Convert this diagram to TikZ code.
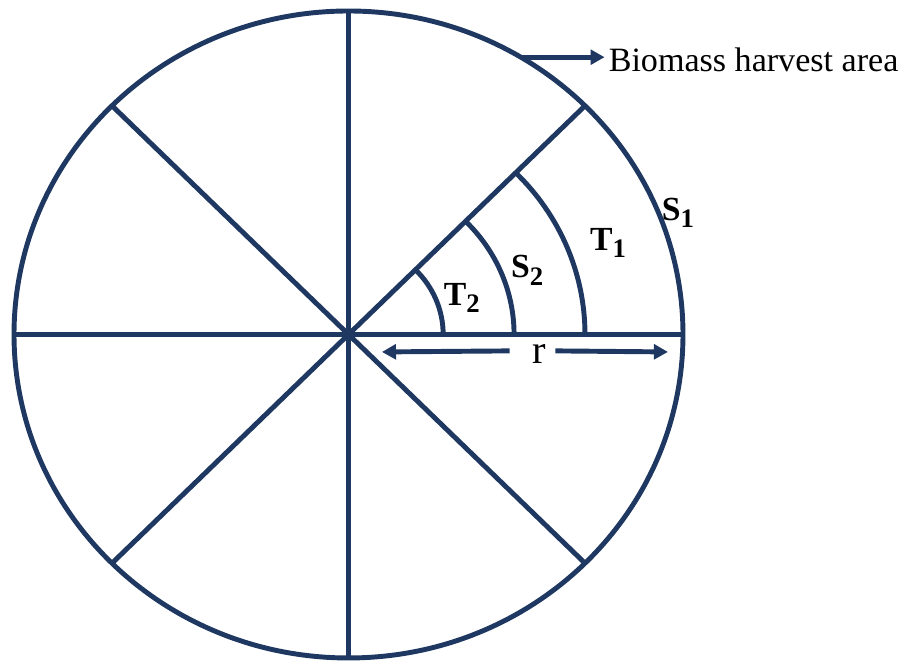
\documentclass[tikz,border=0pt]{standalone}
\usepackage{fontspec}
\setmainfont{Liberation Serif}
\usetikzlibrary{arrows.meta,positioning}
\definecolor{HarvestBlue}{RGB}{30,56,98}

\newcommand{\lowsub}[1]{\raisebox{-2.2pt}{\fontsize{7.6}{9}\selectfont#1}}

\tikzset{
  rim/.style={line width=1.4pt,HarvestBlue},
  seclabel/.style={font=\fontsize{9.6}{11}\selectfont\bfseries,inner sep=0pt},
}

\begin{document}
\begin{tikzpicture}[x=3.345cm,y=3.235cm,>={Triangle[length=4pt,width=4.2pt]}]
  \useasboundingbox (-1.0419,-1.0155) rectangle (1.6607,1.034);
  \coordinate (O) at (0,0);
  % outer boundary and spokes
  \draw[rim] (O) circle (1);
  \foreach \a in {0,45,...,315}
    \draw[rim] (O) -- (\a:1);
  % inner arcs
  \draw[rim] (0.283,0) arc (0:45:0.283);
  \draw[rim] (0.495,0) arc (0:45:0.495);
  \draw[rim] (0.707,0) arc (0:45:0.707);
  % labels
  \node[seclabel] (T2) at (0.339,0.113) {T\lowsub{2}};
  \node[seclabel] (S2) at (0.534,0.199) {S\lowsub{2}};
  \node[seclabel] (T1) at (0.776,0.283) {T\lowsub{1}};
  \node[seclabel] (S1) at (0.985,0.376) {S\lowsub{1}};
  % harvest area pointer
  \coordinate (edge) at (59:1);
  \node[anchor=west,inner sep=0pt,font=\fontsize{9.7}{12}\selectfont] (bio) at (0.776,0.850) {Biomass harvest area};
  \draw[rim,->] (edge) -- ([xshift=-1pt]edge -| bio.west);
  % radius
  \node[inner sep=0pt,font=\fontsize{11.5}{13}\selectfont] (r) at (0.5695,-0.06) {r};
  \coordinate (rL) at (0.100,-0.054);
  \coordinate (rR) at (0.955,-0.054);
  \draw[rim,->] ([xshift=-0.22cm,yshift=0.03cm]r.west) -- (rL);
  \draw[rim,->] ([xshift=0.09cm,yshift=0.03cm]r.east) -- (rR);
\end{tikzpicture}
\end{document}
